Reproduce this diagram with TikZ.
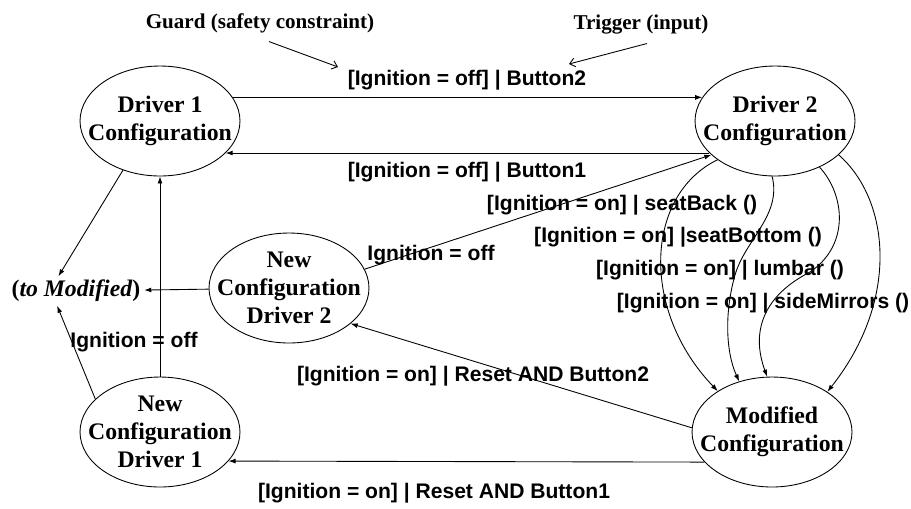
\documentclass[tikz,border=0pt]{standalone}
\usepackage{fontspec}
\setmainfont{Liberation Serif}
\setsansfont{Liberation Sans}
\usetikzlibrary{shapes.geometric,arrows.meta}

\begin{document}
\begin{tikzpicture}[x=0.02cm, y=-0.02cm, % one unit = one pixel of the sketch
    state/.style={draw, ellipse, line width=0.5pt, minimum width=3.2cm, minimum height=2.2cm, inner sep=0pt},
    statetext/.style={align=center, inner sep=0pt, font=\fontsize{13.5}{16}\selectfont\bfseries},
    cond/.style={font=\sffamily\bfseries\fontsize{12}{14}\selectfont, inner sep=1pt},
    note/.style={font=\bfseries\fontsize{12}{14}\selectfont, inner sep=2pt},
    trans/.style={line width=0.5pt, -{Latex[length=4pt,width=2.8pt]}},
    pointer/.style={line width=0.5pt, -{Straight Barb[length=3pt,width=5pt]}}]

    \useasboundingbox (0,0) rectangle (911,508);

    % states
    \node[state, label={[statetext]center:Driver 1\\Configuration}] (drv1) at (160,121) {};
    \node[state, label={[statetext]center:Driver 2\\Configuration}] (drv2) at (775,121) {};
    \node[state, label={[statetext]center:New\\Configuration\\Driver 2}] (new2) at (289,288) {};
    \node[state, label={[statetext]center:New\\Configuration\\Driver 1}] (new1) at (160,432) {};
    \node[state, label={[statetext]center:Modified\\Configuration}] (mod) at (772,432) {};
    \node[note, font=\bfseries\fontsize{13.5}{16}\selectfont] (tomod) at (76,291) {(\textit{to Modified})};

    % notes on top
    \node[note] (guard) at (260,23) {Guard (safety constraint)};
    \node[note] (trigger) at (641,25) {Trigger (input)};
    \coordinate (guardtip) at (338,67);
    \coordinate (triggertip) at (569,64);
    \draw[pointer] ([xshift=9*0.02cm, yshift=-0.1cm]guard.south) -- (guardtip);
    \draw[pointer] ([xshift=6*0.02cm, yshift=-0.1cm]trigger.south) -- (triggertip);

    % between the drivers
    \draw[trans] (drv1.18) -- (drv2.162);
    \draw[trans] (drv2.206) -- (drv1.334);
    \node[cond] (lblb2) at (467,80) {[Ignition = off] | Button2};
    \node[cond] (lblb1) at (467,172) {[Ignition = off] | Button1};

    % left side
    \draw[trans] (drv1.233) -- (tomod.140);
    \draw[trans] (new2) -- (tomod);
    \draw[trans] (new1.153) -- (tomod.218);
    \draw[trans] (new1) -- (drv1);
    \node[cond] (lbloff1) at (134,342) {Ignition = off};

    % back to driver 2
    \draw[trans] (new2.14) -- (drv2.208);
    \node[cond] (lbloff2) at (431,255) {Ignition = off};

    % seat settings
    \draw[trans] (drv2.214) .. controls (645,195) and (640,310) .. (mod.143);
    \draw[trans] (drv2.267) .. controls (782,215) and (745,240) .. (735,275)
        .. controls (725,310) and (725,350) .. (mod.123);
    \draw[trans] (drv2.314) .. controls (845,195) and (850,245) .. (810,272)
        .. controls (765,295) and (750,330) .. (mod.95);
    \draw[trans] (drv2.332) .. controls (890,200) and (900,300) .. (mod.36);
    \node[cond] (lblback) at (622,205) {[Ignition = on] | seatBack ()};
    \node[cond] (lblbottom) at (678,237) {[Ignition = on] |seatBottom ()};
    \node[cond] (lbllumbar) at (720,270) {[Ignition = on] | lumbar ()};
    \node[cond] (lblmirror) at (763,303) {[Ignition = on] | sideMirrors ()};

    % reset
    \draw[trans] (mod.177) -- (new2.330);
    \draw[trans] (mod.204) -- (new1.337);
    \node[cond] (lblreset2) at (473,376) {[Ignition = on] | Reset AND Button2};
    \node[cond] (lblreset1) at (434,493) {[Ignition = on] | Reset AND Button1};

\end{tikzpicture}
\end{document}
